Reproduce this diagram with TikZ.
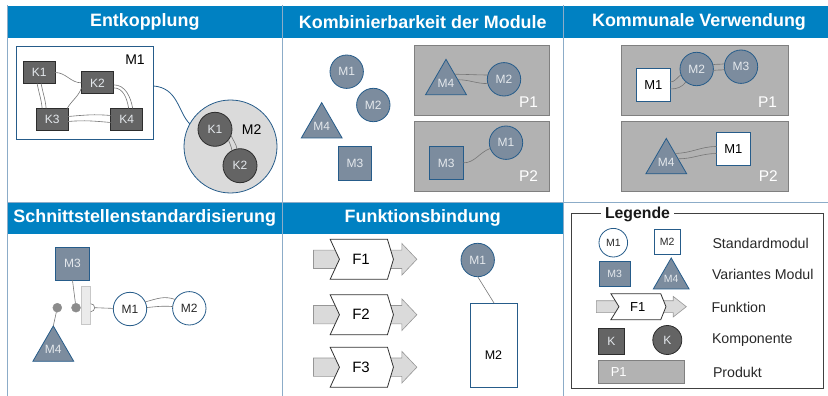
\documentclass[tikz,border=0pt]{standalone}
\usepackage{fontspec}
\setmainfont{Liberation Sans}
\usetikzlibrary{shapes.geometric}

\definecolor{barblue}{RGB}{0,129,194}
\definecolor{frameline}{RGB}{140,172,200}
\definecolor{modblue}{RGB}{38,92,138}
\definecolor{varfill}{RGB}{124,140,158}
\definecolor{labelgray}{RGB}{228,232,236}
\definecolor{prodfill}{RGB}{178,178,178}
\definecolor{prodline}{RGB}{128,128,128}
\definecolor{compfill}{RGB}{100,100,100}
\definecolor{compline}{RGB}{45,45,45}
\definecolor{hubfill}{RGB}{218,218,218}
\definecolor{arrowfill}{RGB}{218,218,218}
\definecolor{arrowline}{RGB}{150,150,150}
\definecolor{wiregray}{RGB}{118,118,118}
\definecolor{textdark}{RGB}{40,40,40}
\definecolor{dotgray}{RGB}{140,140,140}

\tikzset{
  every node/.style={inner sep=0pt, outer sep=0pt},
  fs/.style={font=\fontsize{#1}{#1}\selectfont},
  panelline/.style={draw=frameline, line width=1pt},
  titletext/.style={text=white, font=\bfseries\fontsize{17.9}{20}\selectfont},
  stdcirc/.style={circle, draw=modblue, fill=white, line width=0.8pt, minimum size=33.4pt, fs=12, text=textdark},
  stdbox/.style={rectangle, draw=modblue, fill=white, line width=0.8pt, minimum size=33.4pt, fs=12, text=textdark},
  varcirc/.style={circle, draw=modblue, fill=varfill, line width=0.8pt, minimum size=33.4pt, fs=12, text=labelgray},
  varbox/.style={rectangle, draw=modblue, fill=varfill, line width=0.8pt, minimum size=33.4pt, fs=12, text=labelgray},
  vartri/.style={regular polygon, regular polygon sides=3, draw=modblue, fill=varfill, line width=0.8pt, minimum size=42.4pt, fs=12, text=labelgray},
  compbox/.style={rectangle, draw=compline, fill=compfill, line width=0.8pt, minimum width=32pt, minimum height=22pt, fs=12, text=labelgray},
  compcirc/.style={circle, draw=compline, fill=compfill, line width=0.8pt, minimum size=34pt, fs=12, text=labelgray},
  prodbox/.style={rectangle, draw=prodline, fill=prodfill, line width=0.8pt},
  prodlabel/.style={fs=15.5, text=white},
  wire/.style={draw=wiregray, line width=0.6pt},
  legtext/.style={anchor=west, fs=14.2, text=textdark},
  fnfont/.style={fs=15, text=black},
  fnarrow/.pic={
    \path[fill=arrowfill, draw=arrowline, line width=0.6pt]
      (-48.2,9.2) -- (40.2,9.2) -- (40.2,15.8) -- (55.2,0) -- (40.2,-15.8)
      -- (40.2,-9.2) -- (-48.2,-9.2) -- cycle;
    \path[fill=white, draw=black!80, line width=0.8pt]
      (-31.5,20) -- (25.8,20) -- (31.8,0) -- (25.8,-20) -- (-31.5,-20)
      -- (-22.2,0) -- cycle;
    \node[fnfont] (-lbl) at (-0.6,0) {#1};
  },
}

\begin{document}
\begin{tikzpicture}[x=1pt,y=1pt]
\useasboundingbox (0,0) rectangle (828,-396);

% ---------- title bars ----------
\fill[barblue] (7.5,-6) rectangle (282,-38);
\fill[barblue] (283,-6) rectangle (562.5,-38);
\fill[barblue] (563.5,-6) rectangle (828,-38);
\fill[barblue] (7.5,-202) rectangle (282,-234);
\fill[barblue] (283,-202) rectangle (562.5,-234);

\node[titletext] (tA) at (144.75,-22) {Entkopplung};
\node[titletext] (tB) at (422.75,-22) {Kombinierbarkeit der Module};
\node[titletext] (tC) at (699,-22) {Kommunale Verwendung};
\node[titletext] (tD) at (144.75,-218) {Schnittstellenstandardisierung};
\node[titletext] (tE) at (422.75,-218) {Funktionsbindung};

% ---------- panel grid ----------
\draw[panelline] (7,-5) -- (7,-396);
\draw[panelline] (282.5,-5) -- (282.5,-396);
\draw[panelline] (563,-5) -- (563,-396);
\draw[panelline] (7,-202) -- (828,-202);

% ---------- Entkopplung ----------
\node[draw=modblue, fill=white, line width=0.8pt, minimum width=137.3pt, minimum height=93.3pt] (ekM1) at (84.65,-92.65) {};
\node[fs=14, text=black] (ekM1lbl) at (135,-60) {M1};
\node[compbox] (ekK1) at (39.15,-72.5) {K1};
\node[compbox] (ekK2) at (97.5,-82.85) {K2};
\node[compbox] (ekK3) at (52.15,-119.5) {K3};
\node[compbox] (ekK4) at (126.7,-119.5) {K4};

\draw[wire] (ekK1.east) to[out=0,in=180] (ekK2.west);
\draw[wire] ([xshift=-2pt]ekK1.south) to[out=-80,in=95] ([xshift=-10pt]ekK3.north);
\draw[wire] ([xshift=2pt]ekK1.south) to[out=-80,in=95] ([xshift=-6pt]ekK3.north);
\draw[wire] ([yshift=6pt]ekK2.south west) to[out=-110,in=60] ([xshift=-1pt]ekK3.north east);
\draw[wire] ([yshift=-2pt]ekK2.east) to[out=0,in=100] ([xshift=6pt]ekK4.north);
\draw[wire] ([yshift=-5pt]ekK2.east) to[out=0,in=100] ([xshift=2pt]ekK4.north);
\draw[wire] ([yshift=3pt]ekK3.east) to[out=5,in=175] ([yshift=4pt]ekK4.west);
\draw[wire] ([yshift=-2pt]ekK3.east) to[out=5,in=175] ([yshift=-3pt]ekK4.west);

\node[circle, draw=modblue, fill=hubfill, line width=0.8pt, minimum size=93pt] (ekM2) at (230.5,-146.5) {};
\node[fs=14, text=black] (ekM2lbl) at (251.7,-129.3) {M2};
\node[compcirc] (ekC1) at (215,-129.3) {K1};
\node[compcirc] (ekC2) at (240,-165.7) {K2};
\draw[wire] (ekC1.-20) to[out=-70,in=100] (ekC2.100);
\draw[wire] (ekC1.-38) to[out=-70,in=100] (ekC2.118);

\draw[modblue, line width=0.8pt] ([yshift=6.7pt]ekM1.east) .. controls +(25,-2) and +(-12,12) .. (ekM2.151);

% ---------- Kombinierbarkeit der Module ----------
\node[varcirc] (kbM1) at (346.7,-71.7) {M1};
\node[varcirc] (kbM2) at (373.3,-105) {M2};
\node[vartri] (kbM4) at (321.7,-126.2) {M4};
\node[varbox] (kbM3) at (355,-163.4) {M3};

\node[prodbox, minimum width=135pt, minimum height=70pt] (kbP1) at (482,-80) {};
\node[prodlabel] (kbP1lbl) at (528.5,-102.5) {P1};
\node[prodbox, minimum width=135pt, minimum height=70pt] (kbP2) at (482,-156) {};
\node[prodlabel] (kbP2lbl) at (528.5,-176.3) {P2};

\node[vartri] (kbP1M4) at (446,-82.9) {M4};
\node[varcirc] (kbP1M2) at (504,-79.3) {M2};
\draw[wire] (kbP1M4.45) to[out=0,in=180] (kbP1M2.165);
\draw[wire] (kbP1M4.15) to[out=0,in=180] (kbP1M2.195);

\node[varbox] (kbP2M3) at (446.3,-162.9) {M3};
\node[varcirc] (kbP2M1) at (506,-142.7) {M1};
\draw[wire] (kbP2M3.east) to[out=0,in=200] (kbP2M1.200);

% ---------- Kommunale Verwendung ----------
\node[prodbox, minimum width=166.6pt, minimum height=70pt] (kvP1) at (705,-80) {};
\node[prodlabel] (kvP1lbl) at (767.5,-102) {P1};
\node[prodbox, minimum width=166.6pt, minimum height=70pt] (kvP2) at (705,-156) {};
\node[prodlabel] (kvP2lbl) at (768.3,-176.3) {P2};

\node[stdbox, fs=13, text=black] (kvP1M1) at (653.3,-85) {M1};
\node[varcirc] (kvP1M2) at (696.7,-69) {M2};
\node[varcirc] (kvP1M3) at (741,-66.7) {M3};
\draw[wire] ([yshift=3pt]kvP1M1.east) to[out=0,in=215] (kvP1M2.200);
\draw[wire] ([yshift=-4pt]kvP1M1.east) to[out=0,in=235] (kvP1M2.230);
\draw[wire] (kvP1M2.15) to[out=10,in=190] (kvP1M3.170);
\draw[wire] (kvP1M2.-5) to[out=10,in=190] (kvP1M3.190);

\node[vartri] (kvP2M4) at (666.3,-162) {M4};
\node[stdbox, fs=13, text=black] (kvP2M1) at (733.3,-149) {M1};
\draw[wire] (kvP2M4.45) to[out=0,in=180] ([yshift=2.5pt]kvP2M1.west);
\draw[wire] (kvP2M4.15) to[out=0,in=180] ([yshift=-4.5pt]kvP2M1.west);

% ---------- Schnittstellenstandardisierung ----------
\node[varbox] (ssM3) at (72.5,-263.7) {M3};
\node[rectangle, fill=black!8, draw=black!22, line width=0.6pt, minimum width=9pt, minimum height=38.3pt] (ssBar) at (86.2,-305.2) {};
\node[circle, fill=dotgray, draw=dotgray, minimum size=9pt] (ssDot1) at (57.3,-307.7) {};
\node[circle, fill=dotgray, draw=dotgray, minimum size=9pt] (ssDot2) at (76,-307.7) {};
\coordinate (ssSock) at (90.7,-307.7);
\draw[wire, fill=white] ([yshift=4pt]ssSock) arc[start angle=90, end angle=-90, radius=4pt];
\node[vartri] (ssM4) at (53.3,-349.5) {M4};
\node[stdcirc] (ssM1) at (130,-309) {M1};
\node[stdcirc] (ssM2) at (189.3,-308.3) {M2};

\draw[wire] (ssM3.south) -- (ssDot2);
\draw[wire] (ssDot1) -- (ssM4.corner 1);
\draw[wire] ([xshift=4pt]ssSock) -- (ssM1);
\draw[wire] (ssM1.25) to[out=15,in=160] (ssM2.148);
\draw[wire] (ssM1.5) to[out=5,in=175] (ssM2.174);

% ---------- Funktionsbindung ----------
\pic (fb1) at (361.65,-259.3) {fnarrow=F1};
\pic (fb2) at (361.65,-314.7) {fnarrow=F2};
\pic (fb3) at (361.65,-367.2) {fnarrow=F3};

\node[varcirc] (fbM1) at (477.7,-260) {M1};
\node[stdbox, minimum width=47pt, minimum height=84.4pt] (fbM2) at (494.2,-345.5) {};
\node[fs=12.5, text=black] (fbM2lbl) at (493.5,-355) {M2};
\draw[wire] (fbM1.south) -- (fbM2.north);

% ---------- Legende ----------
\draw[black!75, line width=0.8pt] (571.7,-213.3) rectangle (823.3,-388.3);
\node[fill=white, inner xsep=4pt, inner ysep=1pt, text=black!90, font=\bfseries\fontsize{15.8}{16}\selectfont] (lgTitle) at (637.5,-214.5) {Legende};

\node[stdcirc, minimum size=28.6pt, fs=10.5] (lgM1) at (613.3,-242.7) {M1};
\node[stdbox, minimum width=25.7pt, minimum height=25pt, fs=10.5] (lgM2) at (667.2,-241.8) {M2};
\node[legtext] (lgT1) at (712.5,-243) {Standardmodul};

\node[varbox, minimum width=30.7pt, minimum height=25pt, fs=10.5] (lgM3) at (614.7,-273.5) {M3};
\node[vartri, minimum size=35.8pt, fs=10.5] (lgM4) at (671.2,-278.6) {M4};
\node[legtext] (lgT2) at (712,-274.5) {Variantes Modul};

\pic[xscale=0.87, yscale=0.65, fnfont/.style={fs=13, text=black}] (lgF) at (638.3,-306.7) {fnarrow=F1};
\node[legtext] (lgT3) at (711.5,-307.5) {Funktion};

\node[compbox, minimum width=26pt, minimum height=25.7pt] (lgK1) at (611.3,-341.2) {K};
\node[compcirc, minimum size=29pt] (lgK2) at (667.3,-340) {K};
\node[legtext] (lgT4) at (712,-340.5) {Komponente};

\node[prodbox, minimum width=86pt, minimum height=23.3pt] (lgP) at (641.3,-371.7) {};
\node[fs=13, text=white] (lgPlbl) at (618.7,-371.7) {P1};
\node[legtext] (lgT5) at (713,-372.5) {Produkt};

\end{tikzpicture}
\end{document}
